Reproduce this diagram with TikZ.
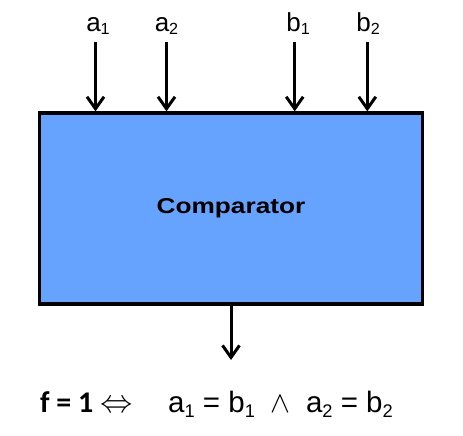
\documentclass[tikz,border=0pt]{standalone}
\usepackage{fontspec}
\setmainfont{Liberation Sans}
\newfontfamily\calibri{Carlito}
\usetikzlibrary{arrows.meta}
\definecolor{compblue}{RGB}{102,163,255}
\newcommand\sbs[2][-0.12em]{\raisebox{#1}{\scalebox{0.62}{#2}}}

\begin{document}
\begin{tikzpicture}[x=1pt, y=-1pt,
    box/.style={
        draw,
        line width=3.3pt,
        fill=compblue,
        minimum width=383pt,
        minimum height=191pt,
        inner sep=0pt
    },
    wire/.style={
        line width=3pt,
        -{Straight Barb[length=12pt,width=17pt,line width=3pt]}
    },
    lbl/.style={
        anchor=base,
        inner sep=0pt,
        font=\fontsize{26}{30}\selectfont
    },
    eq/.style={
        anchor=base west,
        inner sep=0pt,
        font=\fontsize{29.5}{34}\selectfont
    }
]
\useasboundingbox (0,0) rectangle (463,436);

% --- Box ---
\node[box, font=\fontsize{21.5}{25}\selectfont\bfseries] (comp) at (231,208.5) {\scalebox{1.22}[1]{Comparator}};

% --- Inputs ---
\node[lbl] (la1) at (98,31.5) {a\sbs{1}};
\node[lbl] (la2) at (166.5,31.5) {a\sbs{2}};
\node[lbl] (lb1) at (298,31.5) {b\sbs{1}};
\node[lbl] (lb2) at (368,31.5) {b\sbs{2}};

\coordinate (ta1) at (95.5,42);
\coordinate (ta2) at (166.5,42);
\coordinate (tb1) at (294.7,42);
\coordinate (tb2) at (367.3,42);

\draw[wire] (ta1) -- (ta1 |- comp.north);
\draw[wire] (ta2) -- (ta2 |- comp.north);
\draw[wire] (tb1) -- (tb1 |- comp.north);
\draw[wire] (tb2) -- (tb2 |- comp.north);

% --- Output ---
\coordinate (out) at (231,360);
\draw[wire] (comp.south) -- (out);

% --- Formula ---
\node[eq, font=\fontsize{30}{34}\selectfont\calibri\bfseries] (lhs) at (40,412) {f = 1};
\node[eq, font=\fontsize{24.88}{30}\selectfont] (iff) at (100,412) {\scalebox{1.3}{$\Leftrightarrow$}};
\node[eq] (rhs) at (168,412) {a\sbs[-0.18em]{1} = b\sbs[-0.18em]{1}\hspace{0.25em} {\fontsize{24.88}{30}\selectfont\scalebox{1.2}{$\wedge$}}\hspace{0.25em} a\sbs[-0.18em]{2} = b\sbs[-0.18em]{2}};

\end{tikzpicture}
\end{document}
